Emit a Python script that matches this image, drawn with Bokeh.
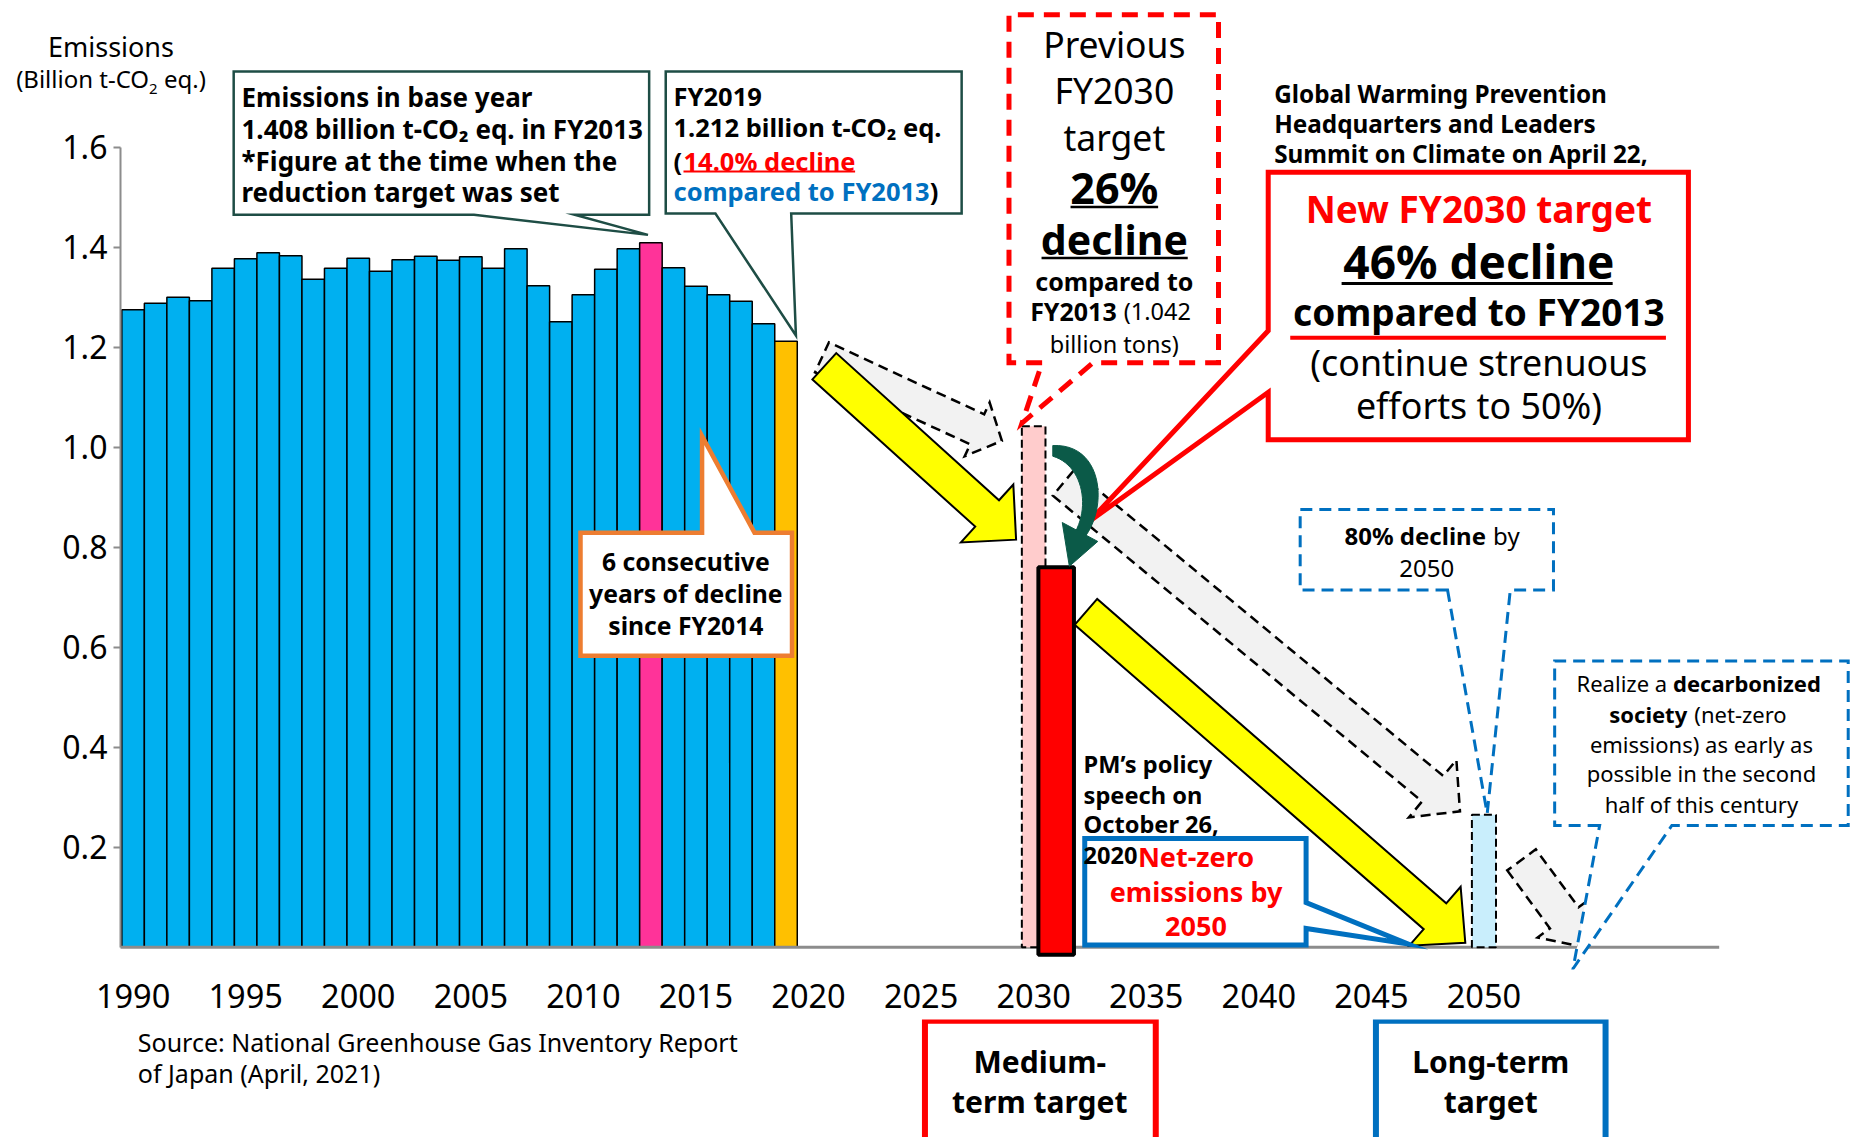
import math
from bokeh.plotting import figure
from bokeh.models import Range1d, FixedTicker, NumeralTickFormatter, Div
from bokeh.layouts import column
from bokeh.embed import file_html
from bokeh.resources import INLINE
from bokeh.core.properties import value

# ---------------- data ----------------
years = list(range(1990, 2020))
emissions = [1.275, 1.288, 1.300, 1.293, 1.358, 1.377, 1.389, 1.383, 1.336, 1.358,
             1.378, 1.352, 1.375, 1.382, 1.374, 1.381, 1.358, 1.397, 1.323, 1.251,
             1.305, 1.356, 1.397, 1.409, 1.359, 1.322, 1.305, 1.292, 1.247, 1.212]
base_year = 2013
latest_year = 2019
target_names = ["Previous FY2030 target", "New FY2030 target", "FY2050 target"]
target_years = [2030, 2030, 2050]
target_values = [1.042, 0.760, 0.265]
y_ticks = [0.2, 0.4, 0.6, 0.8, 1.0, 1.2, 1.4, 1.6]
x_ticks = list(range(1990, 2051, 5))

# ---------------- layout helpers ----------------
FONT = "Noto Sans"
S = 1856 / 1568.0          # reference (shown) -> page px
W, H_TOP, H_BOT = 1850, 1018, 118
FL, FB = 120, 968          # frame left / frame bottom (figure px)
X0, PPY = 132.6, 22.514    # figure px of 1990, px per year
Y0, PPV = 945.8, 500.1     # figure px of 0, px per unit
SHIFT = 1                  # height of the overlay title strip

def fx(sx): return sx * S
def fy(sy): return sy * S - SHIFT
def dx(sx): return 1990 + (fx(sx) - X0) / PPY
def dy(sy): return (Y0 - fy(sy)) / PPV

xr = Range1d(1990 + (FL - X0) / PPY, 1990 + (W - X0) / PPY)
p = figure(width=W, height=H_TOP, output_backend="svg", toolbar_location=None,
           x_range=xr, y_range=Range1d((Y0 - FB) / PPV, Y0 / PPV),
           min_border_left=FL, min_border_right=0, min_border_top=0,
           min_border_bottom=H_TOP - FB)
p.outline_line_color = None
p.xgrid.visible = False
p.ygrid.visible = False
p.background_fill_color = "white"
p.border_fill_color = "white"

p.yaxis.ticker = FixedTicker(ticks=y_ticks)
p.yaxis.formatter = NumeralTickFormatter(format="0.0")
p.yaxis.bounds = (0, 1.6)
p.yaxis.axis_line_color = "#8c8c8c"
p.yaxis.axis_line_width = 2
p.yaxis.major_tick_line_color = "#8c8c8c"
p.yaxis.major_tick_line_width = 2
p.yaxis.major_tick_out = 7
p.yaxis.major_tick_in = 0
p.yaxis.minor_tick_line_color = None
p.yaxis.major_label_text_font = FONT
p.yaxis.major_label_text_font_size = "32px"
p.yaxis.major_label_text_color = "black"
p.yaxis.major_label_standoff = 6

p.xaxis.ticker = FixedTicker(ticks=x_ticks)
p.xaxis.axis_line_color = None
p.xaxis.major_tick_line_color = None
p.xaxis.minor_tick_line_color = None
p.xaxis.major_tick_out = 0
p.xaxis.major_label_standoff = 14
p.xaxis.major_label_text_font = FONT
p.xaxis.major_label_text_font_size = "32.5px"
p.xaxis.major_label_text_color = "black"


def txt(sx, sy, s, size, bold=False, color="black", align="left", fig=None):
    q = fig or p
    Y = dy(sy) if fig is None else fy(sy) - H_TOP
    q.text(x=[dx(sx)], y=[Y], text=[s], text_font=value(FONT),
           text_font_size=f"{size}px",
           text_font_style="bold" if bold else "normal",
           text_color=color, text_align=align, text_baseline="middle")


def shape(pts, fill="white", line="black", width=2, dash="solid"):
    xs = [dx(a) for a, b in pts]
    ys = [dy(b) for a, b in pts]
    p.patch(xs, ys, fill_color=fill if fill else "white",
            fill_alpha=1 if fill else 0, line_color=line, line_width=width,
            line_dash=dash, line_join="miter")


def uline(x1, x2, sy, color="black", width=2.5):
    p.line([dx(x1), dx(x2)], [dy(sy), dy(sy)], line_color=color, line_width=width)


def arrow(tail, tip, w, hw, hl):
    tx, ty = tail
    px_, py_ = tip
    L = math.hypot(px_ - tx, py_ - ty)
    ux, uy = (px_ - tx) / L, (py_ - ty) / L
    nx, ny = -uy, ux
    bx, by = px_ - hl * ux, py_ - hl * uy
    return [(tx + nx * w / 2, ty + ny * w / 2), (bx + nx * w / 2, by + ny * w / 2),
            (bx + nx * hw / 2, by + ny * hw / 2), (px_, py_),
            (bx - nx * hw / 2, by - ny * hw / 2), (bx - nx * w / 2, by - ny * w / 2),
            (tx - nx * w / 2, ty - ny * w / 2)]


def bez(p0, c0, c1, p1, n=24):
    pts = []
    for i in range(n + 1):
        t = i / n
        a, b_, c, d = (1 - t) ** 3, 3 * (1 - t) ** 2 * t, 3 * (1 - t) * t ** 2, t ** 3
        pts.append((a * p0[0] + b_ * c0[0] + c * c1[0] + d * p1[0],
                    a * p0[1] + b_ * c0[1] + c * c1[1] + d * p1[1]))
    return pts


# ---------------- bars ----------------
colors = ["#FF3399" if y == base_year else "#FFC000" if y == latest_year else "#00B0F0"
          for y in years]
p.vbar(x=years, top=emissions, width=1.0, bottom=0, fill_color=colors,
       line_color="black", line_width=1.5)

# baseline
p.line([dx(95), dx(1452)], [0, 0], line_color="#8c8c8c", line_width=3)

# previous target (dashed pale pink) and 2050 target (dashed pale blue)
p.vbar(x=[target_years[0]], top=[target_values[0]], bottom=0, width=1.05,
       fill_color="#FFCCCC", line_color="black", line_width=2, line_dash="8 4")
p.vbar(x=[target_years[2]], top=[target_values[2]], bottom=0, width=1.07,
       fill_color="#C9EEFC", line_color="black", line_width=2, line_dash="8 4")

# gray dashed arrows
for tail, tip, w, hw, hl in [((694, 301.5), (846, 372), 28, 50, 23),
                             ((898, 407.5), (1233, 685), 28, 63, 30),
                             ((1285, 726), (1339.5, 800), 30, 56, 31)]:
    shape(arrow(tail, tip, w, hw, hl), fill="#F2F2F2", line="black", width=2.5,
          dash="10 6")

# new target bar (red)
p.vbar(x=[target_years[1] + 1.0], top=[target_values[1]], bottom=-0.015, width=1.58,
       fill_color="#FF0000", line_color="black", line_width=4)

# yellow arrows
for tail, tip, w, hw, hl in [((696, 309), (858, 455.5), 30, 66, 33),
                             ((917, 516.5), (1237.5, 796), 29, 66, 34)]:
    shape(arrow(tail, tip, w, hw, hl), fill="#FFFF00", line="black", width=2)

TEAL = "#1E4D45"
BLUE = "#0070C0"
RED = "#FF0000"

# callout 1 (base year)
shape([(197, 60), (548, 60), (548, 181), (485, 181), (547, 198), (400, 181), (197, 181)],
      line=TEAL, width=2.5)
# callout 2 (FY2019)
shape([(562, 60), (812, 60), (812, 180), (668, 180), (672, 283), (604, 180), (562, 180)],
      line=TEAL, width=2.5)
# orange callout
shape([(490, 449.6), (592.7, 449.6), (592.7, 368), (637, 449.6), (668.7, 449.6),
       (668.7, 553.5), (490, 553.5)], line="#ED7D31", width=4.5)
# previous target dashed box
shape([(880, 306), (852, 306), (852, 12), (1029, 12), (1029, 306), (923, 306),
       (863, 357), (880, 306)], fill=None, line=RED, width=5, dash="16 10")
# new target box
shape([(1071, 279), (1071, 145), (1426, 145), (1426, 371), (1071, 371), (1071, 331),
       (920, 440)], line=RED, width=5)
# 80% dashed box
shape([(1222.5, 498), (1098, 498), (1098, 430), (1312, 430), (1312, 498), (1275.5, 498),
       (1256, 687), (1222.5, 498)], line=BLUE, width=3, dash="12 7")
# realize dashed box
shape([(1351, 697), (1313, 697), (1313, 558), (1561, 558), (1561, 697), (1412, 697),
       (1328.5, 818), (1351, 697)], line=BLUE, width=3, dash="12 7")
# net-zero box
shape([(916, 708), (1103, 708), (1103, 762), (1189, 797), (1103, 784), (1103, 798),
       (916, 798)], line=BLUE, width=5)

# curved dark green arrow (crescent body + head)
GREEN = "#0B5A48"
outer = bez((889, 376), (930, 374), (936, 425), (917, 452))
inner = bez((908, 449), (921, 425), (913, 392), (889, 385))
shape(outer + inner, fill=GREEN, line=GREEN, width=1)
shape([(897, 441), (927, 457), (903, 478)], fill=GREEN, line=GREEN, width=1)

# ---------------- texts ----------------
# box 1
for sy, s in [(81.7, "Emissions in base year"),
              (108.4, "1.408 billion t-CO\u2082 eq. in FY2013"),
              (135.2, "*Figure at the time when the"),
              (162, "reduction target was set")]:
    txt(203.6, sy, s, 26, bold=True)

# box 2
txt(568.6, 80.3, "FY2019", 25.5, bold=True)
txt(568.6, 107, "1.212 billion t-CO\u2082 eq.", 25.5, bold=True)
txt(568.6, 135.2, "(", 25.5, bold=True)
txt(577, 135.2, "14.0% decline", 25.5, bold=True, color=RED)
uline(577, 722, 144.5, color=RED, width=2)
txt(568.6, 161, "compared to FY2013", 25.5, bold=True, color=BLUE)
txt(785, 161, ")", 25.5, bold=True)

# orange callout text
for sy, s in [(474, "6 consecutive"), (501, "years of decline"), (528, "since FY2014")]:
    txt(579, sy, s, 24.7, bold=True, align="center")

# previous target text
txt(941, 36.6, "Previous", 35.5, align="center")
txt(941, 75.5, "FY2030", 35.5, align="center")
txt(941, 115.5, "target", 35.5, align="center")
txt(941, 157.7, "26%", 43, bold=True, align="center")
uline(904, 978, 174.5, width=2.5)
txt(941, 201.3, "decline", 41, bold=True, align="center")
uline(879.5, 1003, 217.5, width=2.5)
txt(941, 236.6, "compared to", 25, bold=True, align="center")
txt(943, 262, "FY2013", 25, bold=True, align="right")
txt(949, 262, "(1.042", 23.5, align="left")
txt(941, 290, "billion tons)", 23.5, align="center")

# global warming text
for sy, s in [(78.8, "Global Warming Prevention"), (104.2, "Headquarters and Leaders"),
              (129.5, "Summit on Climate on April 22,")]:
    txt(1076, sy, s, 24.3, bold=True)

# new target box text
txt(1249, 176, "New FY2030 target", 37, bold=True, color=RED, align="center")
txt(1249, 219.7, "46% decline", 46, bold=True, align="center")
uline(1133, 1362, 239, width=3)
txt(1249, 263, "compared to FY2013", 37, bold=True, align="center")
uline(1089.6, 1407, 285, color=RED, width=4)
txt(1249, 305.5, "(continue strenuous", 35.8, align="center")
txt(1249, 342, "efforts to 50%)", 35.8, align="center")

# 80% box text
txt(1255, 452, "80% decline", 24, bold=True, align="right")
txt(1261, 452, "by", 24, align="left")
txt(1205, 480, "2050", 24, align="center")

# realize box text
txt(1408, 577, "Realize a", 22, align="right")
txt(1413, 577, "decarbonized", 22, bold=True, align="left")
txt(1425, 603, "society", 22, bold=True, align="right")
txt(1431, 603, "(net-zero", 22, align="left")
txt(1437, 628, "emissions) as early as", 22, align="center")
txt(1437, 653, "possible in the second", 22, align="center")
txt(1437, 679, "half of this century", 22, align="center")

# PM's policy speech
for sy, s in [(645, "PM\u2019s policy"), (671, "speech on"), (696, "October 26,"),
              (722, "2020")]:
    txt(915, sy, s, 23.6, bold=True)
txt(1010, 723, "Net-zero", 27, bold=True, color=RED, align="center")
txt(1010, 753, "emissions by", 27, bold=True, color=RED, align="center")
txt(1010, 782, "2050", 27, bold=True, color=RED, align="center")

# ---------------- bottom strip ----------------
b = figure(width=W, height=H_BOT, output_backend="svg", toolbar_location=None,
           x_range=xr, y_range=Range1d(H_BOT, 0),
           min_border_left=FL, min_border_right=0,
           min_border_top=0, min_border_bottom=0)
b.axis.visible = False
b.xgrid.visible = False
b.ygrid.visible = False
b.outline_line_color = None
b.background_fill_color = "white"
b.border_fill_color = "white"


def bbox(x1, y1, x2, y2, color):
    b.patch([dx(x1), dx(x2), dx(x2), dx(x1)],
            [fy(y1) - H_TOP, fy(y1) - H_TOP, fy(y2) - H_TOP, fy(y2) - H_TOP],
            fill_color="white", line_color=color, line_width=6, line_join="miter")


bbox(781, 862, 976, 975, RED)
bbox(1162, 862, 1356, 975, BLUE)
txt(116, 880, "Source: National Greenhouse Gas Inventory Report", 25, fig=b)
txt(116, 906, "of Japan (April, 2021)", 25, fig=b)
txt(878, 896, "Medium-", 30, bold=True, align="center", fig=b)
txt(878, 930, "term target", 30, bold=True, align="center", fig=b)
txt(1259, 896, "Long-term", 30, bold=True, align="center", fig=b)
txt(1259, 930, "target", 30, bold=True, align="center", fig=b)

# y-axis title (HTML overlay so that it may cross the plot frame)
title_div = Div(
    text=('<div style="width:222px;padding-top:30px;text-align:center;'
          'font-family:\'Noto Sans\';color:#000;white-space:nowrap;">'
          '<div style="font-size:27px;line-height:34px;">Emissions</div>'
          '<div style="font-size:24px;line-height:30px;">(Billion t-CO'
          '<sub style="font-size:15px;">2</sub> eq.)</div></div>'),
    width=222, height=SHIFT, margin=0,
    styles={"position": "relative", "z-index": "10", "overflow": "visible"})

layout = column(title_div, p, b, spacing=0)
open("out.html", "w").write(file_html(layout, INLINE))
